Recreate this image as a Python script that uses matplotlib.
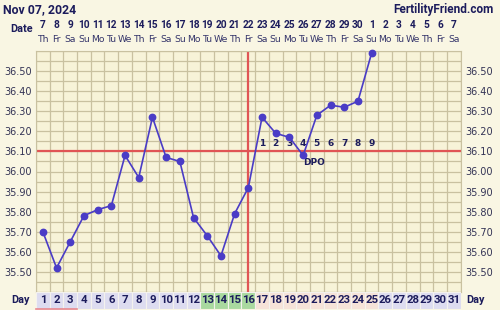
import numpy as np
import matplotlib
matplotlib.use("Agg")
from matplotlib import pyplot as plt

# chart data
days = list(range(1, 32))
dates = [str(d) for d in range(7, 31)] + [str(d) for d in range(1, 8)]
weekdays = ["Th", "Fr", "Sa", "Su", "Mo", "Tu", "We"]
temp_days = list(range(1, 26))
temps = [35.70, 35.52, 35.65, 35.78, 35.81, 35.83, 36.08, 35.97, 36.27, 36.07,
         36.05, 35.77, 35.68, 35.58, 35.79, 35.92, 36.27, 36.19, 36.17, 36.08,
         36.28, 36.33, 36.32, 36.35, 36.59]
coverline = 36.10
ovulation_day = 16
dpo_days = list(range(17, 26))
dpo_labels = [str(i) for i in range(1, 10)]
fertile_days = [13, 14, 15, 16]
luteal_days = list(range(17, 26))
ytick_vals = [35.5, 35.6, 35.7, 35.8, 35.9, 36.0, 36.1, 36.2, 36.3, 36.4, 36.5]

W, H = 500, 310
navy = "#1c1c5c"
bg = "#f9f6e3"
plot_bg = "#f7f3d8"
grid_c = "#c9c1a0"
line_c = "#4a3cc6"
red_c = "#e05555"
narrow = ["Roboto", "DejaVu Sans"]

fig = plt.figure(figsize=(W / 100, H / 100), dpi=100, facecolor=bg)

# pixel -> figure fraction helpers
def fx(px):
    return px / W

def fy(py):
    return 1 - py / H

left, right, top, bottom = 36, 460.7, 51, 292
ax = fig.add_axes([fx(left), fy(bottom), fx(right - left), (bottom - top) / H])
ax.set_facecolor(plot_bg)
ax.set_xlim(0.5, 31.5)
ax.set_ylim(35.40, 36.60)

# grid
for x in np.arange(0.5, 31.6, 1):
    ax.axvline(x, color=grid_c, lw=0.9, zorder=1)
for y in np.arange(35.40, 36.61, 0.05):
    ax.axhline(y, color=grid_c, lw=0.9, zorder=1)
for s in ax.spines.values():
    s.set_color(grid_c)
ax.set_xticks([])
ax.set_yticks([])

# coverline + ovulation line
ax.axhline(coverline, color=red_c, lw=1.6, zorder=2)
ax.axvline(ovulation_day, color=red_c, lw=1.6, zorder=2)

ax.plot(temp_days, temps, color=line_c, lw=1.2, marker="o", ms=4.6,
        zorder=4, clip_on=False)

for d, lab in zip(dpo_days, dpo_labels):
    ax.text(d, 36.14, lab, ha="center", va="center", fontsize=6.5,
            fontweight="bold", color=navy, zorder=3)
ax.text(20.0, 36.047, "DPO", ha="left", va="center", fontsize=6.5,
        fontweight="bold", color=navy, zorder=3)

# temperature labels on both sides
for v in ytick_vals:
    ypx = 72 + (36.5 - v) * 201
    fig.text(fx(32), fy(ypx), "%.2f" % v, ha="right", va="center",
             fontsize=7, color="#333355")
    fig.text(fx(465), fy(ypx), "%.2f" % v, ha="left", va="center",
             fontsize=7, color="#333355")

# header
fig.text(fx(3), fy(10), "Nov 07, 2024", ha="left", va="center",
         fontsize=8.8, fontweight="bold", color=navy, family=narrow)
fig.text(fx(493), fy(10), "FertilityFriend.com", ha="right", va="center",
         fontsize=8.5, fontweight="bold", color=navy, family=narrow)
fig.text(fx(22), fy(29), "Date", ha="center", va="center", fontsize=7.8,
         fontweight="bold", color=navy, family=narrow)
for i, d in enumerate(days):
    xc = left + (d - 0.5) * (right - left) / 31
    fig.text(fx(xc), fy(25.5), dates[i], ha="center", va="center",
             fontsize=7.3, fontweight="bold", color=navy, family=narrow)
    fig.text(fx(xc), fy(40), weekdays[i % 7], ha="center", va="center",
             fontsize=6.7, color="#34346a")

# day strip at bottom
sx = fig.add_axes([fx(left), fy(308.5), fx(right - left), 16.5 / H])
sx.set_xlim(0.5, 31.5)
sx.set_ylim(0, 1)
sx.axis("off")
cell_colors = []
for d in days:
    if d in fertile_days:
        cell_colors.append("#a9d99f")
    elif d in luteal_days:
        cell_colors.append("#f6e3d8")
    else:
        cell_colors.append("#dddcf0")
sx.bar(days, [1] * 31, width=1.0, bottom=0, color=cell_colors,
       edgecolor="#f4f2ee", lw=0.8)
for d in days:
    sx.text(d, 0.5, str(d), ha="center", va="center", fontsize=8.2,
            fontweight="bold", color=navy, family=narrow)
sx.plot([0.5, 3.5], [0.0, 0.0], color="#e88890", lw=1.2, clip_on=False)
fig.text(fx(20), fy(300), "Day", ha="center", va="center", fontsize=7.8,
         fontweight="bold", color=navy, family=narrow)
fig.text(fx(466), fy(300), "Day", ha="left", va="center", fontsize=7.8,
         fontweight="bold", color=navy, family=narrow)

fig.savefig("out.png", dpi=100, facecolor=bg)
